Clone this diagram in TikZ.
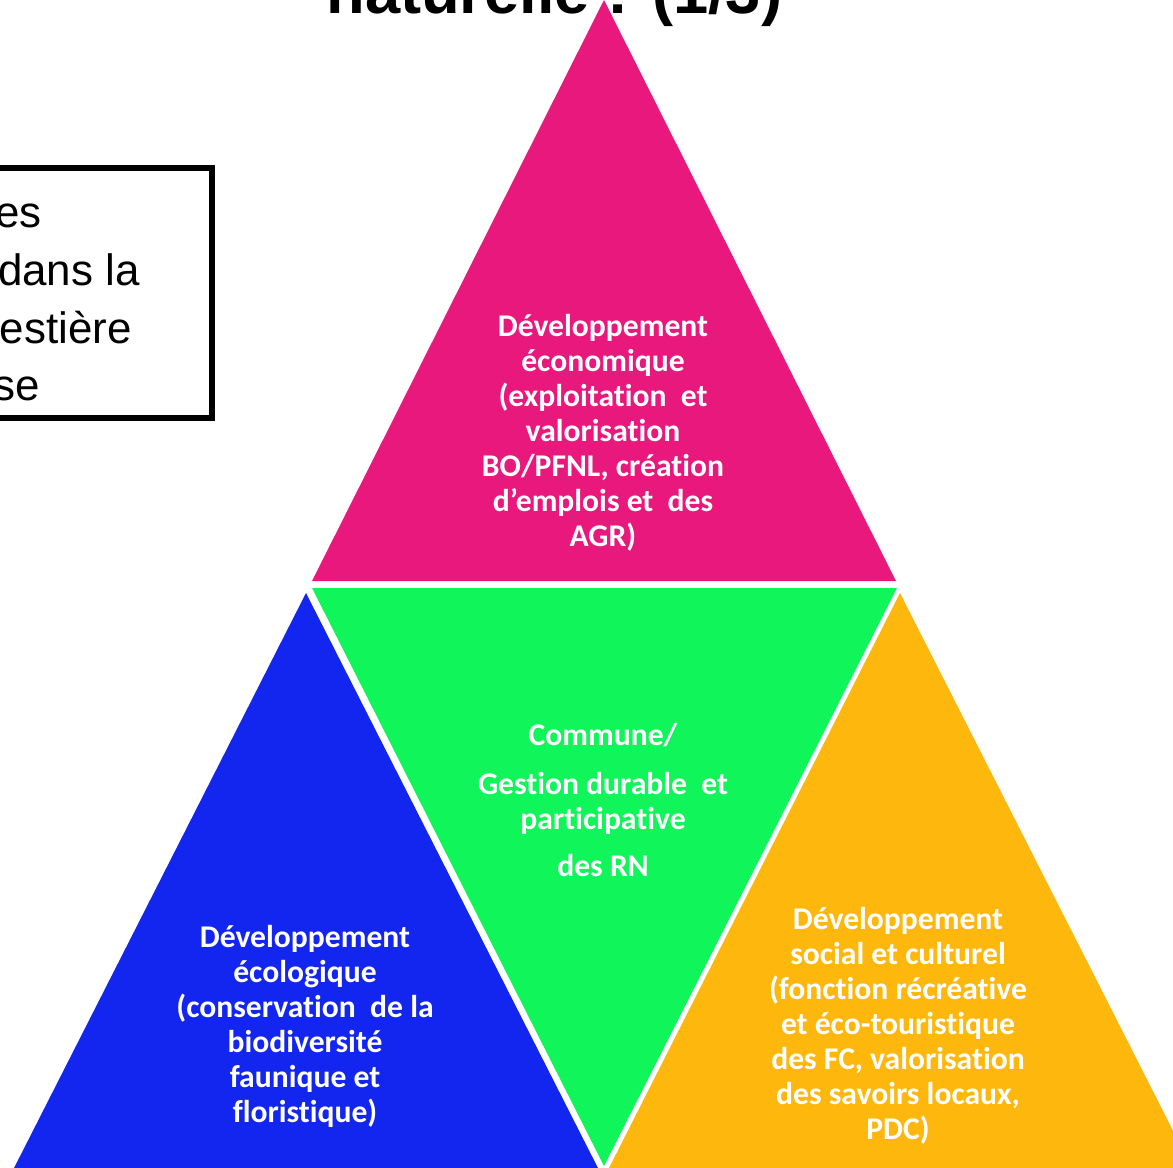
\documentclass[tikz,border=0pt]{standalone}
\usepackage{fontspec}
\setmainfont{Carlito}[Ligatures=NoCommon]
\newfontfamily\arialfont{Liberation Sans}
\usetikzlibrary{arrows.meta}

\definecolor{rose}{RGB}{233,24,124}
\definecolor{vert}{RGB}{16,246,90}
\definecolor{bleu}{RGB}{18,38,240}
\definecolor{jaune}{RGB}{253,183,13}

\tikzset{
  etiquette/.style={text=white, align=center, inner sep=0pt,
    font=\bfseries\fontsize{18}{19.9}\selectfont},
  encadre/.style={anchor=base east, inner sep=0pt,
    font=\arialfont\fontsize{25}{30}\selectfont}
}

\begin{document}
\begin{tikzpicture}[x=0.02cm, y=-0.02cm]

  \useasboundingbox (0,0) rectangle (1173,1167);
  \clip (0,0) rectangle (1173,1167);

  % titre (coupe en haut)
  \node[anchor=base west, inner sep=0pt, font=\arialfont\bfseries\fontsize{36}{40}\selectfont] (titre) at (326,13) {naturelle : (1/3)};

  % encadre a gauche
  \draw[line width=3.1pt] (-30,168) -- (212,168) -- (212,418) -- (-30,418);
  \node[encadre] (ligneA) at (42,227) {es};
  \node[encadre] (ligneB) at (140,285) {dans la};
  \node[encadre] (ligneC) at (132,343) {estière};
  \node[encadre] (ligneD) at (40,400) {se};

  % les quatre triangles
  \fill[rose] (604,0) -- (896,581) -- (312,581) -- cycle;
  \fill[vert] (312,588) -- (897,588) -- (604,1166) -- cycle;
  \fill[bleu] (306,593) -- (600,1172) -- (12,1172) -- cycle;
  \fill[jaune] (900,593) -- (1194,1172) -- (607,1172) -- cycle;

  \node[etiquette] (eco) at (603,433) {Développement\\économique\\(exploitation\ \ et\\valorisation\\BO/PFNL, création\\d’emplois et\ \ des\\AGR)};

  \node[etiquette] (commune) at (603,800) {Commune/\\[0.28cm]Gestion durable\ \ et\\participative\\[0.24cm]des RN};

  \node[etiquette] (ecolo) at (305,1026) {Développement\\écologique\\(conservation\ \ de la\\biodiversité\\faunique et\\floristique)};

  \node[etiquette] (social) at (898,1026) {Développement\\social et culturel\\(fonction récréative\\et éco-touristique\\des FC, valorisation\\des savoirs locaux,\\PDC)};

\end{tikzpicture}
\end{document}
